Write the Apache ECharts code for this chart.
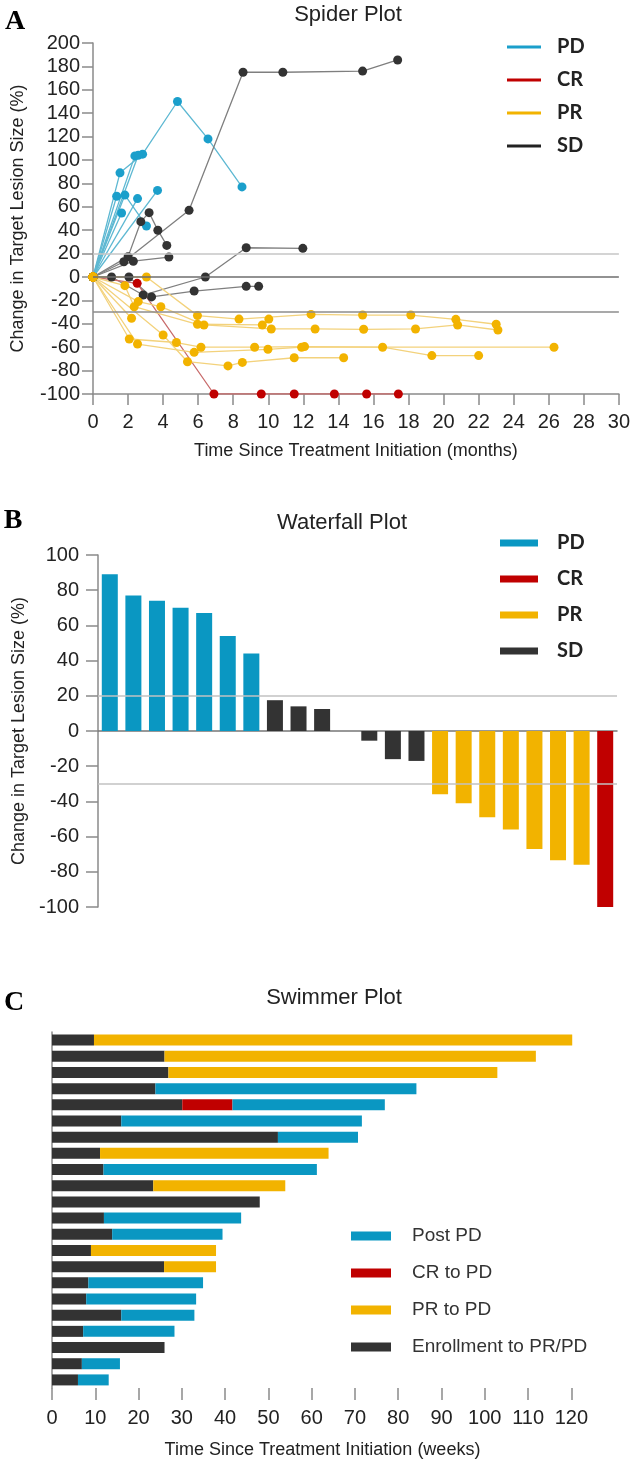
<!DOCTYPE html>
<html><head><meta charset="utf-8">
<script src="https://cdn.jsdelivr.net/npm/echarts@6/dist/echarts.min.js"></script>
<style>html,body{margin:0;padding:0;background:#fff}#c{width:633px;height:1467px}</style>
</head><body><div id="c"></div>
<script>
// ---------- Spider plot data: [months, % change] per patient ----------
const spiderPD = [
  [[0,0],[1.54,89],[2.83,105],[4.82,150],[6.56,118],[8.5,77]],
  [[0,0],[2.39,103.5]],
  [[0,0],[2.58,104]],
  [[0,0],[1.35,69]],
  [[0,0],[1.82,70],[3.05,43.6]],
  [[0,0],[2.54,67]],
  [[0,0],[3.68,74]],
  [[0,0],[1.63,54.7]]
];
const spiderSD = [
  [[0,0],[2.0,17.4],[2.73,47.3],[3.2,55],[3.7,40],[4.21,27]],
  [[0,0],[1.76,13],[5.48,57],[8.56,175],[10.83,175],[15.38,176],[17.38,185.5]],
  [[0,0],[2.3,13.5],[4.33,17]],
  [[0,0],[1.06,0],[2.86,-15.4],[6.41,0],[8.74,25],[11.97,24.5]],
  [[0,0],[2.05,0],[3.34,-17],[5.77,-12],[8.74,-8],[9.45,-8]]
];
const spiderCR = [
  [[0,0],[2.52,-5.4],[6.9,-100],[9.6,-100],[11.48,-100],[13.77,-100],[15.61,-100],[17.42,-100]]
];
const spiderPR = [
  [[0,0],[3.05,0],[5.96,-33],[8.33,-36],[12.44,-32],[15.38,-32.5],[18.13,-32.5],[20.7,-36.2],[23.0,-40.4]],
  [[0,0],[2.58,-21],[3.87,-25.4],[6.33,-41],[10.17,-44.4],[12.67,-44.4],[15.44,-44.7],[18.4,-44.4],[20.8,-41],[23.1,-45.3]],
  [[0,0],[1.82,-7.4],[2.35,-25.4],[5.96,-40.4],[9.66,-41],[10.03,-36]],
  [[0,0],[2.07,-53],[4.76,-56],[6.16,-60],[9.22,-60],[12.07,-59.5],[16.52,-60],[19.33,-67.2],[22.0,-67.2]],
  [[0,0],[2.54,-57.3],[5.77,-64.4],[9.98,-61.8],[11.9,-60],[26.3,-60]],
  [[0,0],[4.0,-49.6],[5.39,-72.4],[7.7,-76],[8.52,-73],[11.48,-69],[14.3,-69]],
  [[0,0],[2.2,-35.3]]
];
const spiderRefLines = [20, 0, -30];

// ---------- Waterfall plot data ----------
const wfPatients = ['1','2','3','4','5','6','7','8','9','10','11','12','13','14','15','16','17','18','19','20','21','22'];
const wfStatus = ['PD','PD','PD','PD','PD','PD','PD','SD','SD','SD','SD','SD','SD','SD','PR','PR','PR','PR','PR','PR','PR','CR'];
const wfValues = [89,77,74,70,67,54,44,17.5,14,12.5,null,-5.5,-16,-17,-36,-41,-49,-56,-67,-73.5,-76,-100];
const wfRefLines = [20, -30];

// ---------- Swimmer plot data (weeks) ----------
const swimRows = ['1','2','3','4','5','6','7','8','9','10','11','12','13','14','15','16','17','18','19','20','21','22'];
const swimEnroll = [9.7,26.0,26.9,23.9,30.1,16.0,52.2,11.1,11.9,23.4,48.0,12.0,13.9,9.0,25.9,8.4,7.9,16.0,7.2,26.0,6.9,6.0];
const swimCR = [null,null,null,null,11.6,null,null,null,null,null,null,null,null,null,null,null,null,null,null,null,null,null];
const swimPR = [110.5,85.8,76.0,null,null,null,null,52.8,null,30.5,null,null,null,28.9,12.0,null,null,null,null,null,null,null];
const swimPost = [null,null,null,60.3,35.2,55.6,18.5,null,49.3,null,null,31.7,25.5,null,null,26.5,25.4,16.9,21.1,null,8.8,7.1];
const swimTicks = [0,10,20,30,40,50,60,70,80,90,100,110,120];

// ---------- styles ----------
const FONT = "'Liberation Sans', Arial, sans-serif";
const barColor = {PD:'#0a97c2', CR:'#c00000', PR:'#f2b300', SD:'#333333'};
const spLine = {PD:'#5db8d2', CR:'#c86b6b', PR:'#f3d27c', SD:'#7f7f7f'};
const spDot = {PD:'#1b9fcb', CR:'#c00000', PR:'#f2b300', SD:'#333333'};
const axisGray = '#8a8a8a';

function spiderSeries(name, list) {
  return list.map(pts => ({
    type:'line', name, xAxisIndex:0, yAxisIndex:0, data: pts,
    symbol:'circle', symbolSize:9, showAllSymbol:true,
    lineStyle:{color: spLine[name], width:1.3},
    itemStyle:{color: spDot[name]},
    emphasis:{disabled:true}, silent:true
  }));
}

const series = [];
const pdS = spiderSeries('PD', spiderPD);
pdS[0].markLine = {
  silent:true, symbol:['none','none'], label:{show:false},
  data: spiderRefLines.map(v => ({yAxis:v, lineStyle:{color: v===20 ? '#c6c6c6' : (v===0 ? '#6e6e6e' : '#8c8c8c'), width:1.5, type:'solid'}}))
};
series.push(...pdS, ...spiderSeries('SD', spiderSD), ...spiderSeries('CR', spiderCR), ...spiderSeries('PR', spiderPR));

['PD','SD','PR','CR'].forEach((st, i) => {
  const s = {
    type:'bar', name: st, xAxisIndex:1, yAxisIndex:1, stack:'wf', barWidth:16,
    data: wfValues.map((v, k) => wfStatus[k] === st ? v : null),
    itemStyle:{color: barColor[st]}, silent:true
  };
  if (i === 0) {
    s.markLine = {silent:true, symbol:['none','none'], label:{show:false},
      data: wfRefLines.map(v => ({yAxis:v, lineStyle:{color:'#c2c2c2', width:1.5, type:'solid'}}))};
  }
  series.push(s);
});

[['Enrollment to PR/PD', swimEnroll, '#333333'], ['CR to PD', swimCR, '#c00000'],
 ['PR to PD', swimPR, '#f2b300'], ['Post PD', swimPost, '#0a97c2']].forEach(([name, d, col]) => {
  series.push({type:'bar', name, xAxisIndex:2, yAxisIndex:2, stack:'sw', barWidth:11, data:d, itemStyle:{color:col}, silent:true});
});

const tickLabel = {fontSize:20, color:'#222', fontFamily:FONT};
const nameStyle = {fontSize:18, color:'#222', fontFamily:FONT};

const option = {
  animation:false,
  backgroundColor:'#fff',
  grid:[
    {left:93, top:43, width:527, height:351},
    {left:98, top:555, width:519, height:352},
    {left:52, top:1032, width:541, height:356}
  ],
  xAxis:[
    {gridIndex:0, type:'value', min:0, max:30, interval:2,
     axisLine:{onZero:false, lineStyle:{color:axisGray, width:1.5}},
     axisTick:{length:11, lineStyle:{color:axisGray, width:1.5}},
     axisLabel:Object.assign({margin:18}, tickLabel), splitLine:{show:false},
     name:'Time Since Treatment Initiation (months)', nameLocation:'middle', nameGap:48, nameTextStyle:nameStyle},
    {gridIndex:1, type:'category', data:wfPatients,
     axisLine:{onZero:true, lineStyle:{color:'#777', width:1.5}}, axisTick:{show:false}, axisLabel:{show:false}},
    {gridIndex:2, type:'value', min:0, max:125, interval:10,
     axisLine:{onZero:false, lineStyle:{color:axisGray, width:1.5}},
     axisTick:{show:true, length:12, customValues:swimTicks, lineStyle:{color:axisGray, width:1.5}},
     axisLabel:Object.assign({margin:20, customValues:swimTicks}, tickLabel), splitLine:{show:false},
     name:'Time Since Treatment Initiation (weeks)', nameLocation:'middle', nameGap:53, nameTextStyle:nameStyle}
  ],
  yAxis:[
    {gridIndex:0, type:'value', min:-100, max:200, interval:20,
     axisLine:{show:true, onZero:false, lineStyle:{color:axisGray, width:1.5}},
     axisTick:{show:true, length:11, lineStyle:{color:axisGray, width:1.5}},
     axisLabel:Object.assign({margin:13}, tickLabel), splitLine:{show:false},
     name:'Change in Target Lesion Size (%)', nameLocation:'middle', nameGap:66, nameRotate:90, nameTextStyle:nameStyle},
    {gridIndex:1, type:'value', min:-100, max:100, interval:20,
     axisLine:{show:true, onZero:false, lineStyle:{color:axisGray, width:1.5}},
     axisTick:{show:true, length:12, lineStyle:{color:axisGray, width:1.5}},
     axisLabel:Object.assign({margin:19}, tickLabel), splitLine:{show:false},
     name:'Change in Target Lesion Size (%)', nameLocation:'middle', nameGap:70, nameRotate:90, nameTextStyle:nameStyle},
    {gridIndex:2, type:'category', data:swimRows, inverse:true,
     axisLine:{show:true, lineStyle:{color:axisGray, width:1.5}}, axisTick:{show:false}, axisLabel:{show:false}}
  ],
  legend:[
    {orient:'vertical', left:502, top:32, itemWidth:34, itemHeight:3, itemGap:13, icon:'rect', selectedMode:false,
     data:[{name:'PD', itemStyle:{color:'#1b9fcb'}},{name:'CR', itemStyle:{color:'#c00000'}},{name:'PR', itemStyle:{color:'#f2b300'}},{name:'SD', itemStyle:{color:'#222'}}],
     textStyle:{fontSize:20, fontWeight:'bold', fontFamily:"Lato, 'Open Sans', sans-serif", color:'#222', lineHeight:20, padding:[0,0,0,11]}},
    {orient:'vertical', left:495, top:528, itemWidth:38, itemHeight:7, itemGap:16, icon:'rect', selectedMode:false,
     data:[{name:'PD', itemStyle:{color:'#0a97c2'}},{name:'CR', itemStyle:{color:'#c00000'}},{name:'PR', itemStyle:{color:'#f2b300'}},{name:'SD', itemStyle:{color:'#333'}}],
     textStyle:{fontSize:20, fontWeight:'bold', fontFamily:"Lato, 'Open Sans', sans-serif", color:'#222', lineHeight:20, padding:[0,0,0,14]}},
    {orient:'vertical', left:346, top:1221, itemWidth:40, itemHeight:9, itemGap:17, icon:'rect', selectedMode:false,
     data:['Post PD','CR to PD','PR to PD','Enrollment to PR/PD'],
     textStyle:{fontSize:19, fontFamily:FONT, color:'#333', lineHeight:20, padding:[0,0,0,16]}}
  ],
  graphic:[
    {type:'text', x:15, y:22, style:{text:'A', font:"bold 28px 'Liberation Serif', serif", fill:'#000', align:'center', verticalAlign:'middle'}},
    {type:'text', x:348, y:15, style:{text:'Spider Plot', font:"22px 'Liberation Sans', Arial, sans-serif", fill:'#222', align:'center', verticalAlign:'middle'}},
    {type:'text', x:13, y:521, style:{text:'B', font:"bold 28px 'Liberation Serif', serif", fill:'#000', align:'center', verticalAlign:'middle'}},
    {type:'text', x:342, y:523, style:{text:'Waterfall Plot', font:"22px 'Liberation Sans', Arial, sans-serif", fill:'#222', align:'center', verticalAlign:'middle'}},
    {type:'text', x:14, y:1003, style:{text:'C', font:"bold 28px 'Liberation Serif', serif", fill:'#000', align:'center', verticalAlign:'middle'}},
    {type:'text', x:334, y:998, style:{text:'Swimmer Plot', font:"22px 'Liberation Sans', Arial, sans-serif", fill:'#222', align:'center', verticalAlign:'middle'}}
  ],
  series
};
const chart = echarts.init(document.getElementById('c'), null, {renderer:'canvas'});
chart.setOption(option);
</script></body></html>
